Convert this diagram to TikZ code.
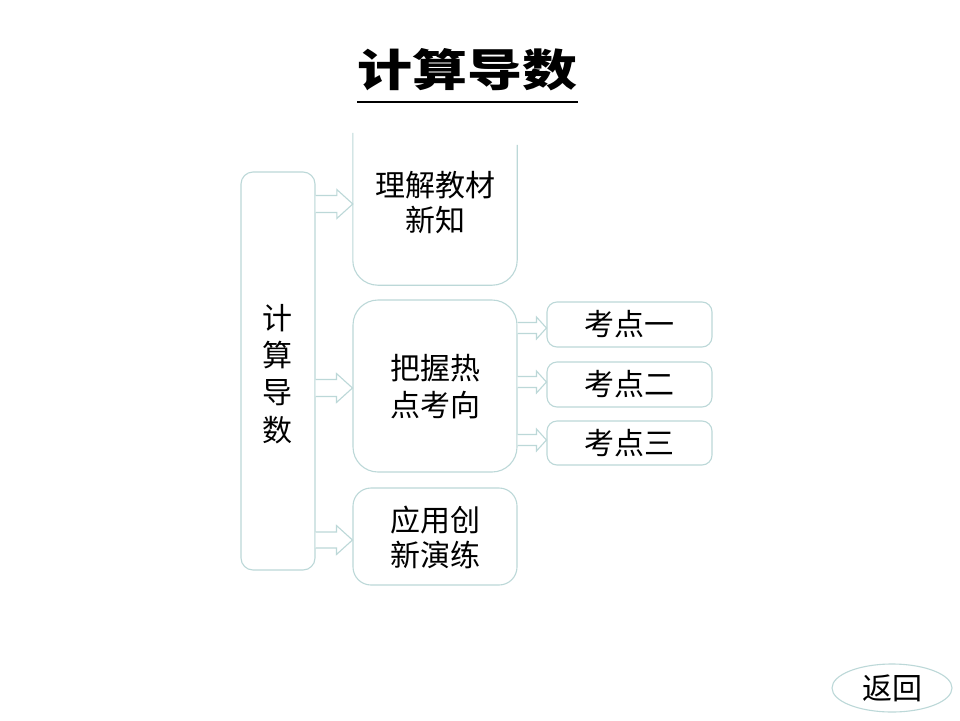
\documentclass[tikz,border=0pt]{standalone}
\usepackage{fontspec}
\newfontfamily\cjk{Noto Sans CJK SC}
\usetikzlibrary{calc,shapes.geometric}
\definecolor{edge}{RGB}{188,216,216}
\newcommand\harr[6]{%
  \path (0,#3) coordinate (yy);
  \path (#1.east |- yy) coordinate (aa) (#2.west |- yy) coordinate (bb);
  \draw[harrow] ($(aa)+(0,-#4)$) -- ($(bb)+(-#6,-#4)$) -- ($(bb)+(-#6,-#5)$) -- (bb)
    -- ($(bb)+(-#6,#5)$) -- ($(bb)+(-#6,#4)$) -- ($(aa)+(0,#4)$);
}
\begin{document}
\begin{tikzpicture}[x=1pt,y=-1pt,
  box/.style={draw=edge, line width=1.1pt, rounded corners=#1, inner sep=0pt},
  txt/.style={font=\cjk\fontsize{30}{36}\selectfont, align=center, text=black},
  harrow/.style={draw=edge, line width=1.1pt, fill=white}]
\useasboundingbox[fill=white] (0,0) rectangle (960,720);
% title
\node[font=\cjk\bfseries\fontsize{44}{52}\selectfont, inner sep=0pt] (title) at (467,70) {\scalebox{1.25}[1]{计算导数}};
\draw[line width=1.2pt] (357,102) -- (578,102);
% left box
\node[box=12pt, minimum width=74pt, minimum height=398pt] (L) at (278,371) {};
\node[txt, font=\cjk\fontsize{30}{37.3}\selectfont] (Lt) at (277,374) {计\\算\\导\\数};
% box 1 (open top)
\node[minimum width=164pt, minimum height=152pt, inner sep=0pt] (B1) at (435,209) {};
\draw[draw=edge, line width=1.1pt, rounded corners=25pt] (B1.north west) -- (B1.south west) -- (B1.south east) -- ($(B1.north east)+(0,12)$);
\node[txt, font=\cjk\fontsize{30}{35}\selectfont] (B1t) at (435,202.5) {理解教材\\新知};
% box 2
\node[box=25pt, minimum width=164pt, minimum height=172pt] (B2) at (435,386) {};
\node[txt, font=\cjk\fontsize{30}{37}\selectfont] (B2t) at (435,386.5) {把握热\\点考向};
% box 3
\node[box=18pt, minimum width=164pt, minimum height=97pt] (B3) at (435,536.5) {};
\node[txt, font=\cjk\fontsize{30}{35}\selectfont] (B3t) at (435,537.5) {应用创\\新演练};
% small boxes
\node[box=10pt, minimum width=165pt, minimum height=45pt, txt] (K1) at (629.5,324.5) {考点一};
\node[box=10pt, minimum width=165pt, minimum height=45pt, txt] (K2) at (629.5,384.5) {考点二};
\node[box=10pt, minimum width=165pt, minimum height=44pt, txt] (K3) at (629.5,443) {考点三};
% arrows
\harr{L}{B1}{204}{8.5}{14.5}{16}
\harr{L}{B2}{388}{8.5}{14.5}{16}
\harr{L}{B3}{540}{8}{14.5}{16}
\harr{B2}{K1}{328}{5.5}{11}{10}
\harr{B2}{K2}{382}{5.5}{11}{10}
\harr{B2}{K3}{440}{5.5}{11}{10}
% return
\node[draw=edge, line width=1.1pt, ellipse, minimum width=120pt, minimum height=48pt, inner sep=0pt, txt] (ret) at (892,688) {返回};
\end{tikzpicture}
\end{document}
